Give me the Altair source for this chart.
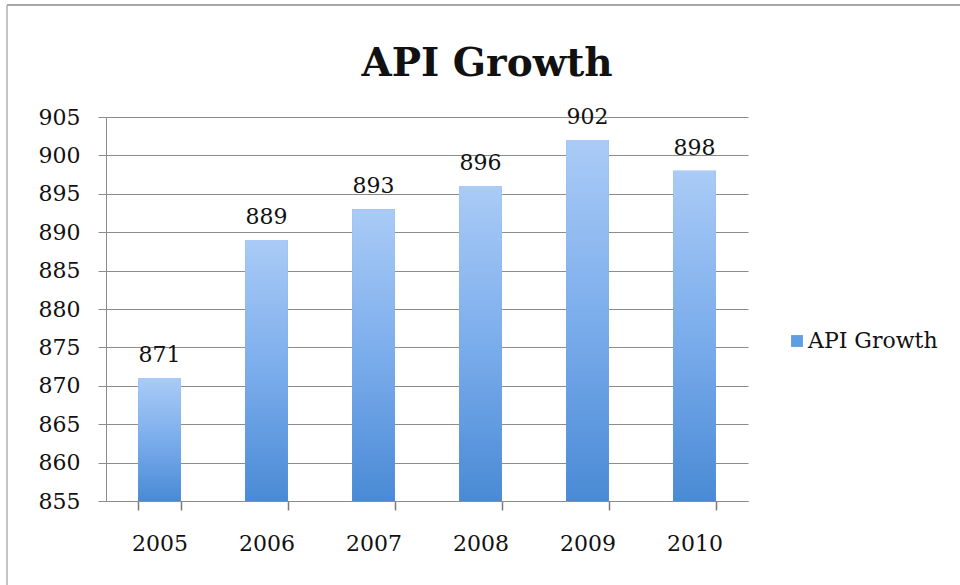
import altair as alt
import pandas as pd

# ---- data ----
years = ["2005", "2006", "2007", "2008", "2009", "2010"]
values = [871, 889, 893, 896, 902, 898]
series_name = "API Growth"
y_ticks = [855, 860, 865, 870, 875, 880, 885, 890, 895, 900, 905]
y_domain = [855, 905]
y_base = 855

df = pd.DataFrame({"year": years, "value": values, "series": [series_name] * len(years)})

FONT = "DejaVu Serif"
W, H = 642, 384
LEFT, TOP = 106, 117
GRID = "#8c8c8c"
TICK = "#7a7a7a"

x = alt.X(
    "year:N", title=None, sort=years,
    scale=alt.Scale(paddingInner=0.6, paddingOuter=0.3),
    axis=alt.Axis(labelAngle=0, tickBand="extent", tickSize=9, tickWidth=1.5, labelPadding=23,
                  grid=False, domainColor=GRID, tickColor=TICK),
)
y = alt.Y(
    "value:Q", title=None,
    scale=alt.Scale(domain=y_domain, nice=False, zero=False),
    axis=alt.Axis(values=y_ticks, grid=True, gridColor=GRID, tickSize=8, labelPadding=18,
                  domainColor=GRID, tickColor=GRID),
)
y2 = alt.datum(y_base)

base = alt.Chart(df)

legend_bars = base.mark_bar().encode(
    x=x, y=y, y2=y2,
    color=alt.Color(
        "series:N", scale=alt.Scale(range=["#5f9de4"]),
        legend=alt.Legend(title=None, orient="none", legendX=680, legendY=213,
                          symbolType="square", symbolSize=140, symbolStrokeWidth=0,
                          labelFont=FONT, labelFontSize=22, labelColor="#111111",
                          labelOffset=0),
    ),
)

grad = alt.Gradient(
    gradient="linear",
    stops=[alt.GradientStop(color="#aacbf6", offset=0),
           alt.GradientStop(color="#7badec", offset=0.5),
           alt.GradientStop(color="#4a8ad5", offset=1)],
    x1=0, x2=0, y1=0, y2=1,
)
grad_bars = base.mark_bar(fill=grad).encode(x=x, y=y, y2=y2)

labels = base.mark_text(baseline="bottom", dy=-11, font=FONT, fontSize=22, color="#111111").encode(
    x=x, y=y, text=alt.Text("value:Q")
)

frame_data = alt.Data(values=[{}])
frame_top = alt.Chart(frame_data).mark_rule(color="#a8a8a8", strokeWidth=2).encode(
    x=alt.value(7 - LEFT), x2=alt.value(960 - LEFT), y=alt.value(5 - TOP)
)
frame_left = alt.Chart(frame_data).mark_rule(color="#b0b0b0", strokeWidth=1.5).encode(
    x=alt.value(7 - LEFT), y=alt.value(5 - TOP), y2=alt.value(585 - TOP)
)

chart = alt.layer(frame_top, frame_left, legend_bars, grad_bars, labels).properties(
    width=W, height=H,
    background="white",
    title=alt.TitleParams("API Growth", font=FONT, fontSize=39, fontWeight="bold",
                          color="#111111", anchor="middle", dx=60, offset=-80),
    autosize=alt.AutoSizeParams(type="none"),
    padding={"left": LEFT, "top": TOP, "right": 960 - LEFT - W, "bottom": 585 - TOP - H},
).configure_view(strokeWidth=0).configure_axis(
    labelFont=FONT, labelFontSize=22, labelColor="#111111", domainWidth=1, gridWidth=1
)

chart.save("out.html", embed_options={"renderer": "svg", "actions": False})
